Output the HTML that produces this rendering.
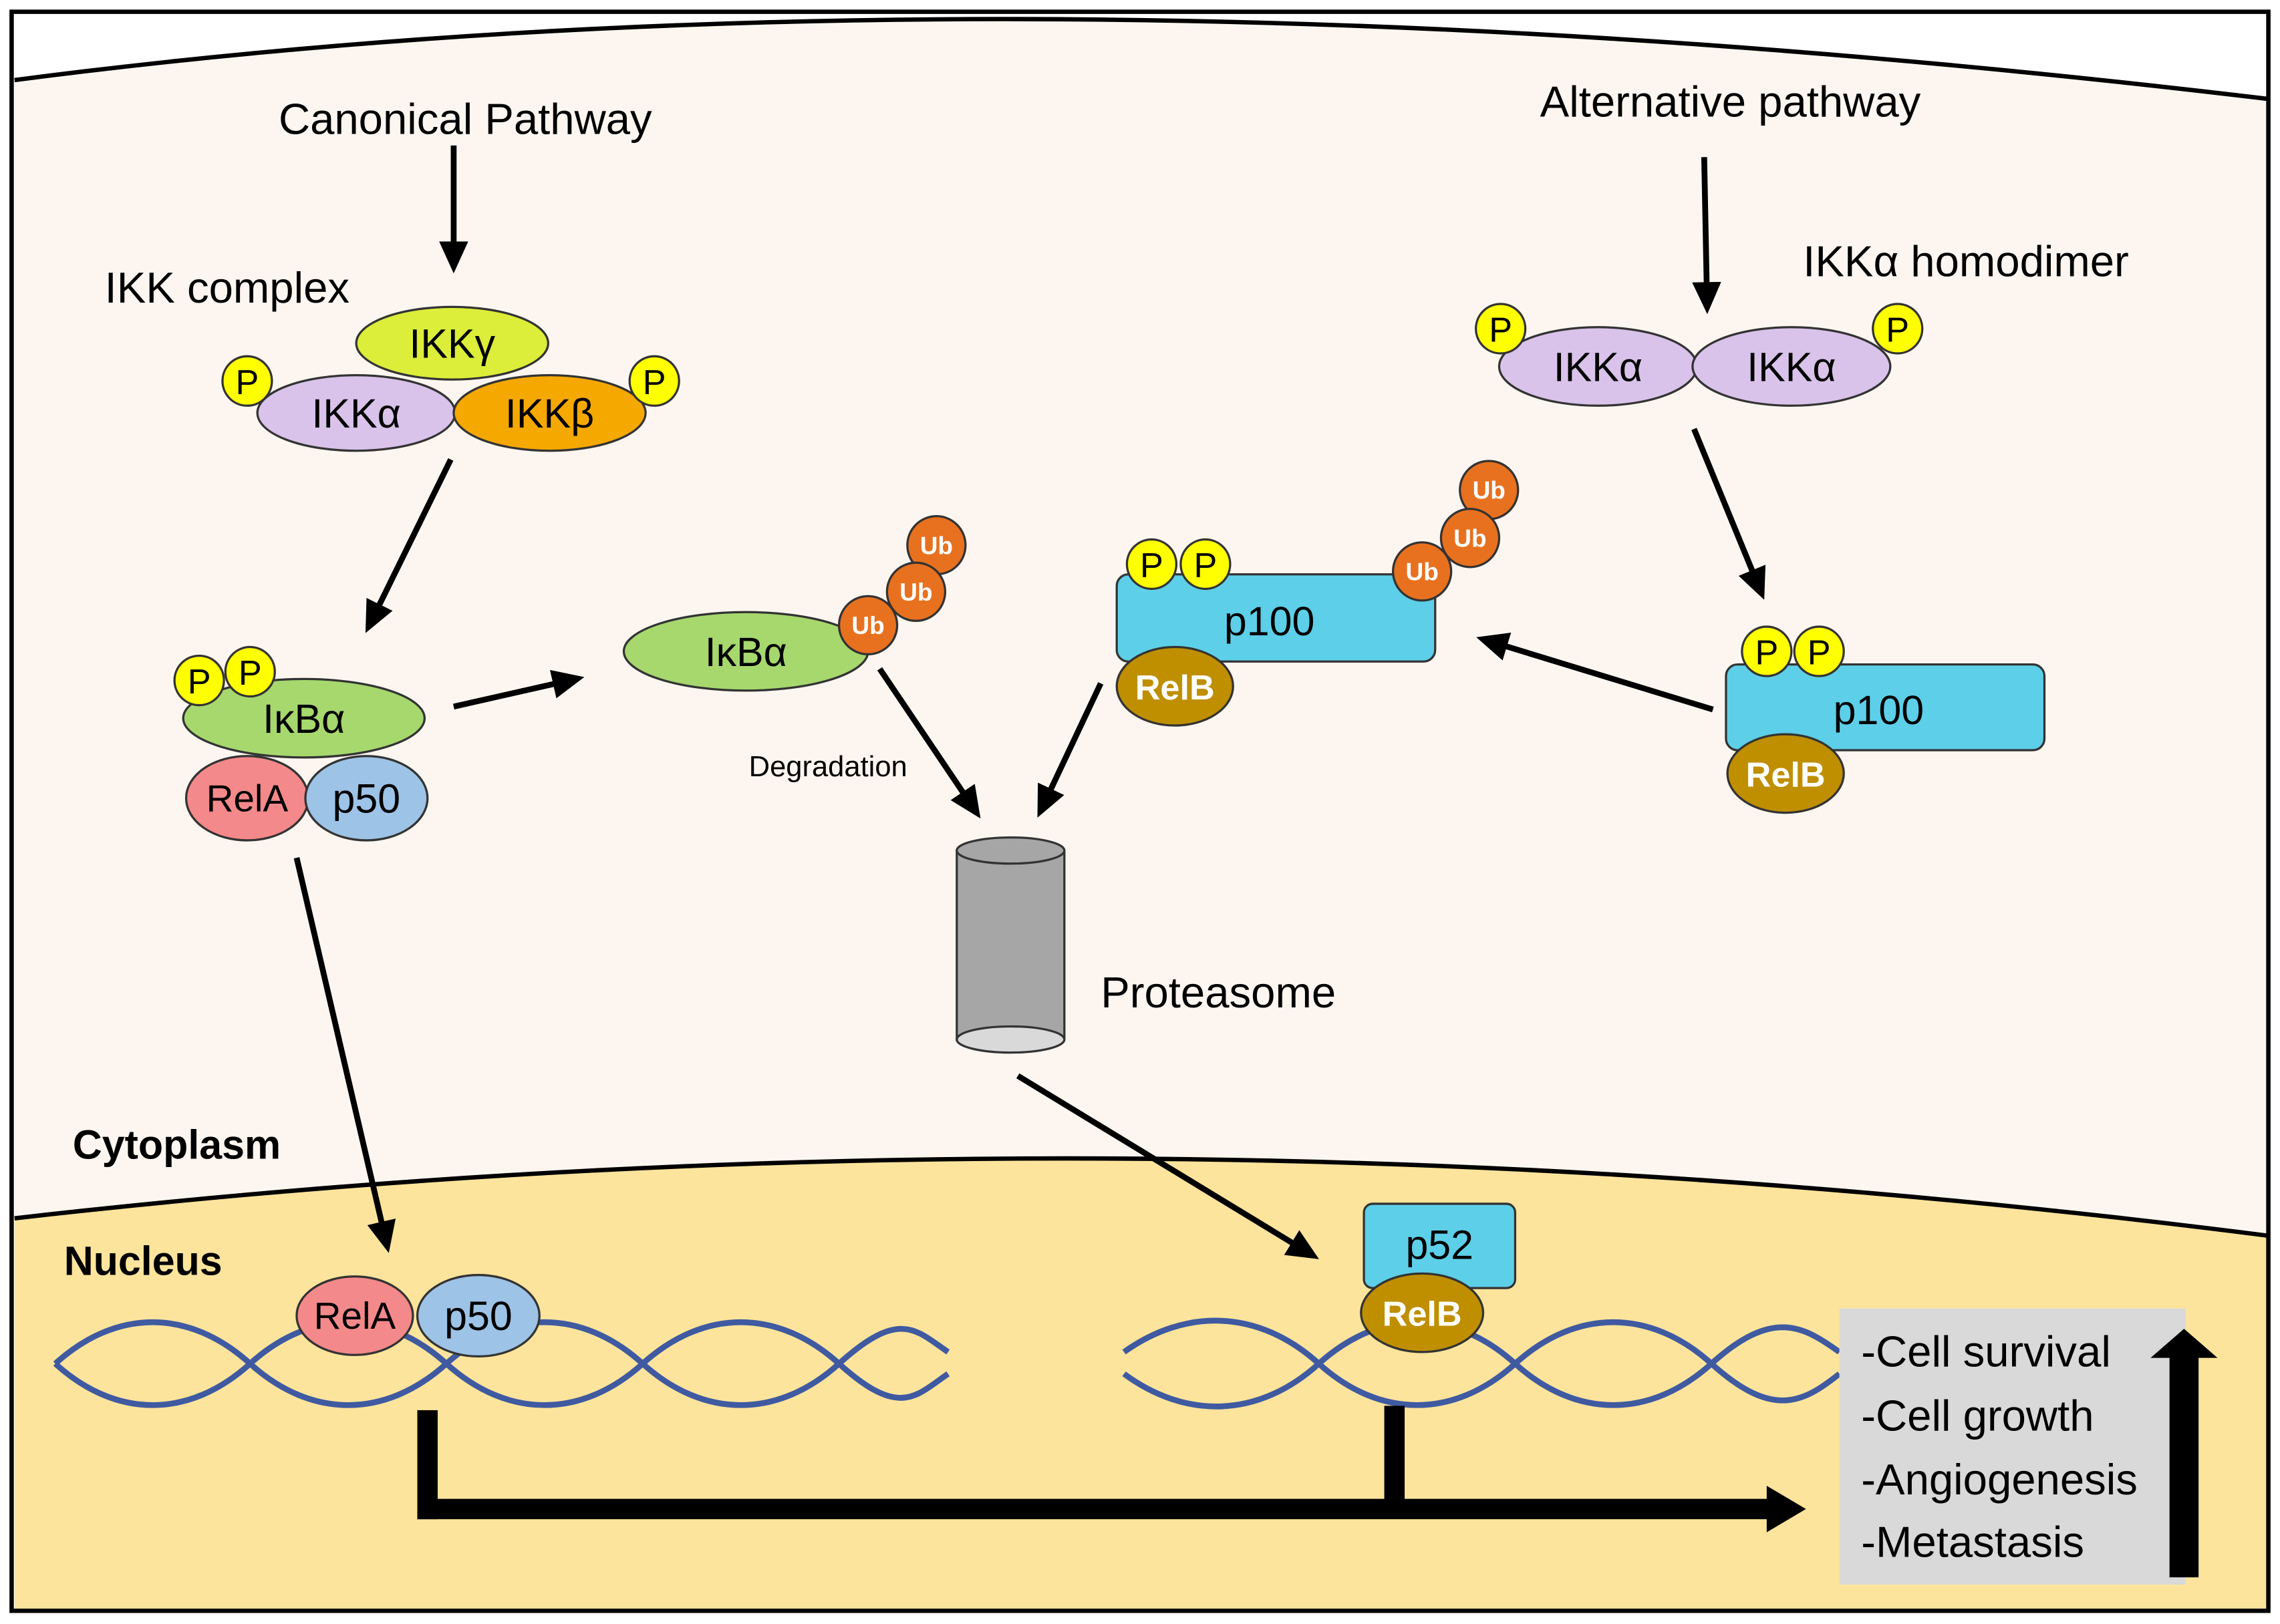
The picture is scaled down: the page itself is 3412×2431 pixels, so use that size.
<!DOCTYPE html>
<html><head><meta charset="utf-8"><style>html,body{margin:0;padding:0;background:#fff}svg{display:block}</style></head><body>
<svg width="3412" height="2431" viewBox="0 0 1568 1117" xmlns="http://www.w3.org/2000/svg" font-family="Liberation Sans, DejaVu Sans, sans-serif">
<defs><marker id="ah" markerWidth="5.5" markerHeight="5" refX="4" refY="2.5" orient="auto" markerUnits="strokeWidth"><path d="M0,0 L5.5,2.5 L0,5 z" fill="#000"/></marker></defs>
<rect x="0" y="0" width="1568" height="1117" fill="#fff"/>
<path d="M10,55 Q700,-35 1560,68 L1560,1108 L10,1108 Z" fill="#fdf6f0"/>
<path d="M10,55 Q700,-35 1560,68" fill="none" stroke="#000" stroke-width="3"/>
<path d="M10,838 Q780,750 1560,850 L1560,1108 L10,1108 Z" fill="#fde49c"/>
<path d="M10,838 Q780,750 1560,850" fill="none" stroke="#000" stroke-width="3"/>
<rect x="8" y="8" width="1552" height="1100" fill="none" stroke="#000" stroke-width="3"/>
<g fill="none" stroke="#3f5aa0" stroke-width="4">
<path d="M38,938 C80,900 130,900 172,938 S265,976 307,938 S400,900 442,938 S535,976 577,938 S630,915 652,930"/>
<path d="M38,938 C80,976 130,976 172,938 S265,900 307,938 S400,976 442,938 S535,900 577,938 S630,960 652,945"/>
<path d="M773,930 C815,900 865,900 907,938 S1000,976 1042,938 S1135,900 1177,938 S1240,965 1265,945"/>
<path d="M773,945 C815,976 865,976 907,938 S1000,900 1042,938 S1135,976 1177,938 S1240,912 1265,930"/>
</g>
<g stroke="#000" stroke-width="4" marker-end="url(#ah)" fill="none">
<line x1="312" y1="100" x2="312" y2="182"/>
<line x1="310" y1="316" x2="254" y2="430"/>
<line x1="312" y1="486" x2="396" y2="467"/>
<line x1="605" y1="460" x2="671" y2="558"/>
<line x1="757" y1="470" x2="716" y2="557"/>
<line x1="1172" y1="108" x2="1174" y2="210"/>
<line x1="1165" y1="295" x2="1211" y2="407"/>
<line x1="1178" y1="488" x2="1021" y2="440"/>
<line x1="204" y1="590" x2="266" y2="856"/>
<line x1="700" y1="740" x2="902" y2="863"/>
</g>
<g font-size="30" fill="#000">
<text x="320" y="92" text-anchor="middle">Canonical Pathway</text>
<text x="72" y="208">IKK complex</text>
<text x="1190" y="80" text-anchor="middle">Alternative pathway</text>
<text x="1240" y="190">IKKα homodimer</text>
<text x="757" y="693">Proteasome</text>
</g>
<text x="515" y="534" font-size="20">Degradation</text>
<text x="50" y="797" font-size="28" font-weight="bold">Cytoplasm</text>
<text x="44" y="877" font-size="28" font-weight="bold">Nucleus</text>
<g stroke="#333" stroke-width="1.5" font-size="28" text-anchor="middle">
<ellipse cx="311" cy="236" rx="66" ry="25" fill="#dced3a"/><text x="311" y="246" stroke="none">IKKγ</text>
<ellipse cx="245" cy="284" rx="68" ry="26" fill="#d9c3ea"/><text x="245" y="294" stroke="none">IKKα</text>
<ellipse cx="378" cy="284" rx="66" ry="26" fill="#f5a800"/><text x="378" y="294" stroke="none">IKKβ</text>
<ellipse cx="1099" cy="252" rx="68" ry="27" fill="#d9c3ea"/><text x="1099" y="262" stroke="none">IKKα</text>
<ellipse cx="1232" cy="252" rx="68" ry="27" fill="#d9c3ea"/><text x="1232" y="262" stroke="none">IKKα</text>
<ellipse cx="209" cy="494" rx="83" ry="27" fill="#a6d86e"/><text x="209" y="504" stroke="none">IκBα</text>
<ellipse cx="170" cy="549" rx="42" ry="29" fill="#f3898a"/><text x="170" y="558" stroke="none" font-size="26">RelA</text>
<ellipse cx="252" cy="549" rx="42" ry="29" fill="#9dc3e6"/><text x="252" y="559" stroke="none">p50</text>
<ellipse cx="513" cy="448" rx="84" ry="27" fill="#a6d86e"/><text x="513" y="458" stroke="none">IκBα</text>
<rect x="768" y="395" width="219" height="60" rx="8" fill="#5dcfe8"/><text x="873" y="437" stroke="none">p100</text>
<rect x="1187" y="457" width="219" height="59" rx="8" fill="#5dcfe8"/><text x="1292" y="498" stroke="none">p100</text>
<rect x="938" y="828" width="104" height="58" rx="6" fill="#5dcfe8"/><text x="990" y="866" stroke="none">p52</text>
<ellipse cx="244" cy="905" rx="40" ry="27" fill="#f3898a"/><text x="244" y="914" stroke="none" font-size="26">RelA</text>
<ellipse cx="329" cy="905" rx="42" ry="28" fill="#9dc3e6"/><text x="329" y="915" stroke="none">p50</text>
</g>
<g stroke="#333" stroke-width="1.5" font-size="24" font-weight="bold" text-anchor="middle">
<ellipse cx="808" cy="472" rx="40" ry="27" fill="#bf8f00"/><text x="808" y="481" fill="#fff" stroke="none">RelB</text>
<ellipse cx="1228" cy="532" rx="40" ry="27" fill="#bf8f00"/><text x="1228" y="541" fill="#fff" stroke="none">RelB</text>
<ellipse cx="978" cy="903" rx="42" ry="27" fill="#bf8f00"/><text x="978" y="912" fill="#fff" stroke="none">RelB</text>
</g>
<g stroke="#333" stroke-width="1.5" font-size="24" text-anchor="middle" fill="#ffff00">
<circle cx="170" cy="262" r="17"/><circle cx="450" cy="262" r="17"/>
<circle cx="137" cy="468" r="17"/><circle cx="172" cy="462" r="17"/>
<circle cx="792" cy="388" r="17"/><circle cx="829" cy="388" r="17"/>
<circle cx="1032" cy="226" r="17"/><circle cx="1305" cy="226" r="17"/>
<circle cx="1215" cy="448" r="17"/><circle cx="1251" cy="448" r="17"/>
</g>
<g font-size="24" text-anchor="middle" fill="#000">
<text x="170" y="271">P</text><text x="450" y="271">P</text>
<text x="137" y="477">P</text><text x="172" y="471">P</text>
<text x="792" y="397">P</text><text x="829" y="397">P</text>
<text x="1032" y="235">P</text><text x="1305" y="235">P</text>
<text x="1215" y="457">P</text><text x="1251" y="457">P</text>
</g>
<g stroke="#333" stroke-width="1.5" fill="#e8711f">
<circle cx="644" cy="375" r="20"/><circle cx="630" cy="407" r="20"/><circle cx="597" cy="430" r="20"/>
<circle cx="1024" cy="337" r="20"/><circle cx="1011" cy="370" r="20"/><circle cx="978" cy="393" r="20"/>
</g>
<g font-size="17" font-weight="bold" text-anchor="middle" fill="#fff">
<text x="644" y="381">Ub</text><text x="630" y="413">Ub</text><text x="597" y="436">Ub</text>
<text x="1024" y="343">Ub</text><text x="1011" y="376">Ub</text><text x="978" y="399">Ub</text>
</g>
<g stroke="#333" stroke-width="1.5">
<rect x="658" y="585" width="74" height="130" fill="#a6a6a6"/>
<ellipse cx="695" cy="715" rx="37" ry="9" fill="#d9d9d9"/>
<ellipse cx="695" cy="585" rx="37" ry="9" fill="#a6a6a6"/>
</g>
<rect x="287" y="970" width="14" height="75" fill="#000"/>
<rect x="287" y="1031" width="930" height="14" fill="#000"/>
<path d="M1215,1022 L1242,1038 L1215,1054 Z" fill="#000"/>
<rect x="952" y="967" width="14" height="70" fill="#000"/>
<rect x="1265" y="900" width="238" height="190" fill="#d9d9d9"/>
<g font-size="30" fill="#000">
<text x="1280" y="940">-Cell survival</text>
<text x="1280" y="984">-Cell growth</text>
<text x="1280" y="1028">-Angiogenesis</text>
<text x="1280" y="1071">-Metastasis</text>
</g>
<rect x="1492" y="932" width="20" height="153" fill="#000"/>
<path d="M1479,934 L1502,914 L1525,934 Z" fill="#000"/>
</svg>
</body></html>
